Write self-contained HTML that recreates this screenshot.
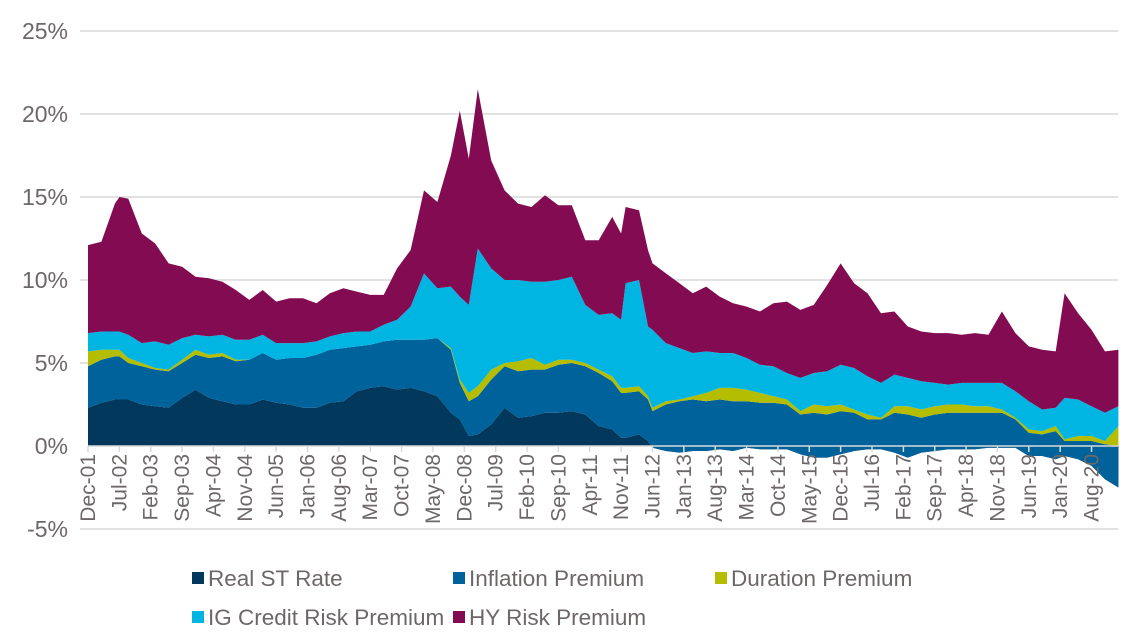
<!DOCTYPE html>
<html><head><meta charset="utf-8"><style>
body{margin:0;background:#fff;}
svg{display:block;font-family:"Liberation Sans",sans-serif;}
</style></head><body>
<svg id="chart" width="1138" height="642" viewBox="0 0 1138 642"></svg>
<script>
const months=[0,3,6,7,9,12,15,18,21,24,27,30,33,36,39,42,45,48,51,54,57,60,63,66,69,72,75,78,81,83,85,87,90,93,96,99,102,105,108,111,114,117,119,120,123,125,126,129,132,135,138,141,144,147,150,153,156,159,162,165,168,171,174,177,180,183,186,189,192,195,198,201,204,207,210,213,216,218,221,224,227,230];
const realST=[2.3,2.6,2.8,2.8,2.8,2.5,2.4,2.3,2.9,3.4,2.9,2.7,2.5,2.5,2.8,2.6,2.5,2.3,2.3,2.6,2.7,3.3,3.5,3.6,3.4,3.5,3.3,3.0,2.0,1.6,0.6,0.7,1.3,2.3,1.7,1.8,2.0,2.0,2.1,1.9,1.2,1.0,0.5,0.5,0.7,0.3,-0.1,-0.3,-0.4,-0.3,-0.3,-0.2,-0.3,-0.1,-0.2,-0.2,-0.2,-0.5,-0.7,-0.7,-0.5,-0.3,-0.2,-0.2,-0.4,-0.7,-0.4,-0.3,-0.2,-0.2,-0.2,-0.1,-0.1,-0.1,-0.6,-0.6,-0.8,-0.6,-0.8,-1.2,-2.0,-2.5];
const inflation=[2.5,2.6,2.6,2.6,2.2,2.3,2.2,2.2,2.1,2.1,2.4,2.7,2.6,2.7,2.8,2.6,2.8,3.0,3.2,3.2,3.2,2.7,2.6,2.7,3.0,2.9,3.1,3.5,3.8,2.2,2.1,2.3,2.7,2.5,2.8,2.8,2.6,2.9,2.9,2.9,3.2,2.9,2.7,2.7,2.6,2.5,2.2,2.8,3.1,3.1,3.0,3.0,3.0,2.8,2.8,2.8,2.7,2.4,2.7,2.6,2.6,2.3,1.8,1.8,2.4,2.6,2.1,2.2,2.2,2.2,2.2,2.1,2.1,1.7,1.4,1.3,1.7,0.9,1.1,1.5,2.1,2.5];
const duration=[0.9,0.6,0.4,0.4,0.3,0.2,0.1,0.1,0.2,0.3,0.2,0.2,0.1,0.0,0.0,0.0,0.0,0.0,0.0,0.0,0.0,0.0,0.0,0.0,0.0,0.0,0.0,0.0,0.1,0.2,0.5,0.6,0.6,0.2,0.6,0.7,0.3,0.3,0.2,0.2,0.2,0.3,0.3,0.3,0.3,0.2,0.2,0.2,0.1,0.2,0.5,0.7,0.8,0.7,0.6,0.4,0.3,0.2,0.5,0.5,0.4,0.2,0.3,0.1,0.4,0.5,0.5,0.5,0.5,0.5,0.4,0.4,0.2,0.1,0.2,0.2,0.3,0.1,0.3,0.3,0.2,1.2];
const igCredit=[1.1,1.1,1.1,1.1,1.4,1.2,1.6,1.5,1.3,0.9,1.1,1.1,1.2,1.2,1.1,1.0,0.9,0.9,0.8,0.8,0.9,0.9,0.8,1.0,1.2,2.0,4.0,3.0,3.7,5.0,5.3,8.3,6.1,5.0,4.9,4.6,5.0,4.8,5.0,3.5,3.3,3.8,4.1,6.3,6.4,4.2,4.7,3.5,3.1,2.6,2.5,2.1,2.1,1.9,1.7,1.8,1.6,2.0,1.9,2.1,2.4,2.5,2.3,2.1,1.9,1.7,1.7,1.4,1.2,1.3,1.4,1.4,1.6,1.6,1.7,1.3,1.1,2.5,2.2,1.8,1.7,1.2];
const hyRisk=[5.3,5.4,7.7,8.1,8.2,6.6,5.9,4.9,4.3,3.5,3.5,3.2,3.0,2.4,2.7,2.5,2.7,2.7,2.3,2.6,2.7,2.4,2.2,1.8,3.1,3.4,5.0,5.2,7.9,11.2,8.8,9.6,6.5,5.4,4.6,4.5,5.2,4.5,4.3,3.9,4.5,5.8,5.2,4.6,4.2,4.6,4.0,4.2,3.9,3.6,3.9,3.4,3.0,3.1,3.2,3.8,4.3,4.1,4.1,5.2,6.1,5.1,5.0,4.2,3.8,3.1,3.0,3.0,3.1,2.9,3.0,2.9,4.3,3.5,3.3,3.6,3.4,6.3,5.2,4.6,3.7,3.4];
const seriesNames=["Real ST Rate","Inflation Premium","Duration Premium","IG Credit Risk Premium","HY Risk Premium"];
const tickLabels=["Dec-01","Jul-02","Feb-03","Sep-03","Apr-04","Nov-04","Jun-05","Jan-06","Aug-06","Mar-07","Oct-07","May-08","Dec-08","Jul-09","Feb-10","Sep-10","Apr-11","Nov-11","Jun-12","Jan-13","Aug-13","Mar-14","Oct-14","May-15","Dec-15","Jul-16","Feb-17","Sep-17","Apr-18","Nov-18","Jun-19","Jan-20","Aug-20"];
const yTicks=[-5,0,5,10,15,20,25];

const svg=document.getElementById('chart');
const NS='http://www.w3.org/2000/svg';
const colors=['#02385b','#00629b','#b5bd00','#00b5e2','#830b52'];
const txt='#6e6768';
const X=m=>88+m*4.48;
const Y=v=>446-v*16.6;
function mk(tag,attrs){const e=document.createElementNS(NS,tag);for(const k in attrs)e.setAttribute(k,attrs[k]);svg.appendChild(e);return e;}

yTicks.forEach(t=>{
  if(t!==0){const g=mk('line',{x1:80,x2:1118,y1:Y(t),y2:Y(t),stroke:'#d9d9d9','stroke-width':1.5});
  
  }
  const l=mk('text',{x:68,y:Y(t)+8,'text-anchor':'end','font-size':23,fill:txt});
  l.textContent=t+'%';
  
  
});

const series=[realST,inflation,duration,igCredit,hyRisk];
let base=months.map(()=>0);
series.forEach((s,k)=>{
  const top=base.map((b,i)=>b+s[i]);
  let d='M'+months.map((m,i)=>X(m).toFixed(1)+','+Y(top[i]).toFixed(1)).join('L');
  for(let i=months.length-1;i>=0;i--)d+='L'+X(months[i]).toFixed(1)+','+Y(base[i]).toFixed(1);
  d+='Z';
  const p=mk('path',{d:d,fill:colors[k]});
  
  
  base=top;
});

const ax=mk('line',{x1:88,x2:1118,y1:Y(0),y2:Y(0),stroke:'#d9d9d9','stroke-width':1.5});



tickLabels.forEach((lab,i)=>{
  const x=X(i*7);
  const tk=mk('line',{x1:x,x2:x,y1:Y(0),y2:Y(0)+6,stroke:'#d9d9d9','stroke-width':1.5});
  
  
  const t=mk('text',{x:x+7,y:454,'text-anchor':'end','font-size':21,fill:txt,transform:'rotate(-90 '+(x+7)+' 454)'});
  t.textContent=lab;
  
  
});

const legPos=[[192,578],[453,578],[715,578],[192,617],[453,617]];
seriesNames.forEach((n,k)=>{
  const [lx,ly]=legPos[k];
  const r=mk('rect',{x:lx,y:ly-6,width:12,height:12,fill:colors[k]});
  
  
  const t=mk('text',{x:lx+16,y:ly+8,'font-size':22.5,fill:txt});
  t.textContent=n;
  
  
});
</script>
</body></html>
